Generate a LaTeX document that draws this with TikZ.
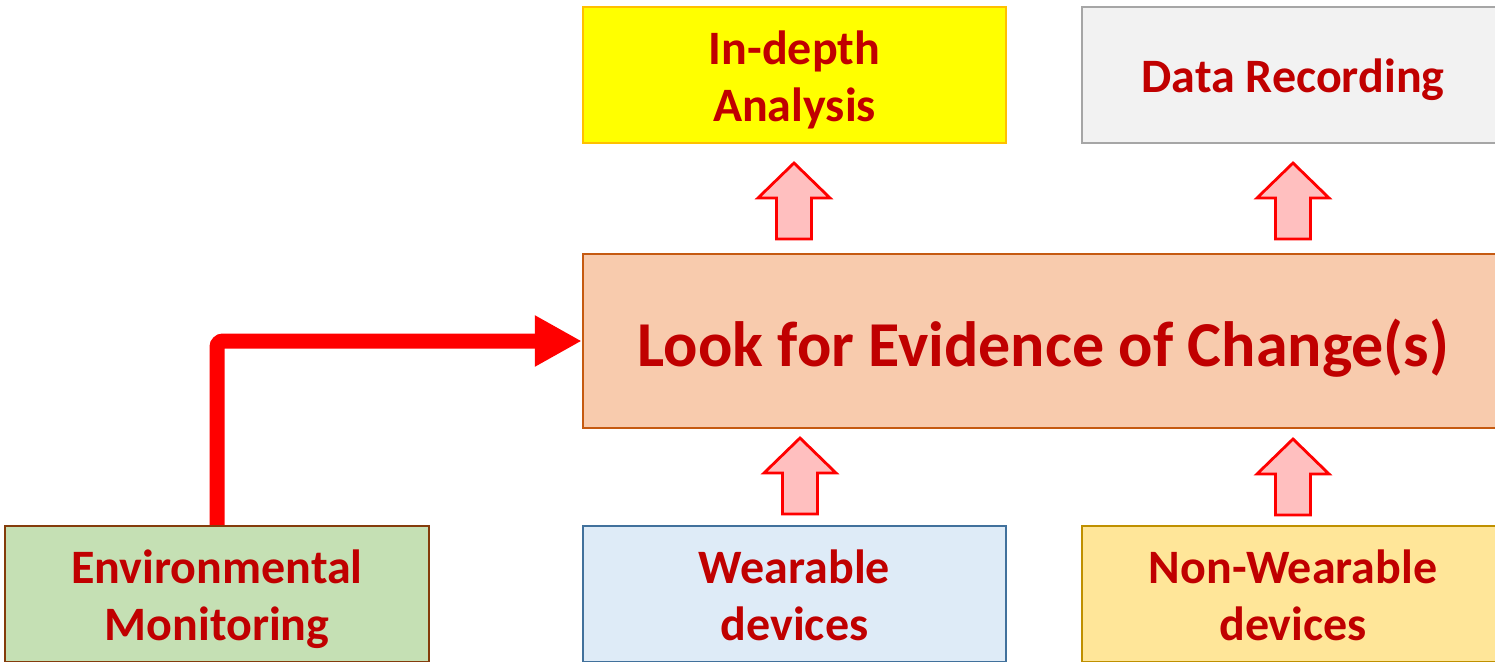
\documentclass[tikz,border=0pt]{standalone}
\usepackage{fontspec}
\setmainfont{Carlito}
\usetikzlibrary{arrows.meta}
\definecolor{txtred}{HTML}{C00000}
\definecolor{arrowpink}{HTML}{FFBFBF}
\begin{document}
\begin{tikzpicture}[x=1pt,y=-1pt,
  box/.style={draw, line width=2.5pt, minimum width=#1, minimum height=136pt,
    inner sep=0pt},
  box/.default=423pt,
  boxtext/.style={text=txtred, align=center, inner sep=0pt, yshift=-5pt,
    font=\fontsize{48}{57}\selectfont\bfseries},
  bigtext/.style={boxtext, yshift=-2pt, font=\fontsize{64}{76}\selectfont\bfseries},
  bigarrow/.style={draw=red, line width=15pt, rounded corners=6pt,
    -{Triangle[length=47pt,width=48pt]}},
  uparrow/.pic={
    \draw[draw=red, fill=arrowpink, line width=2.8pt, line join=miter]
      (-17.5,0) -- (-17.5,-41) -- (-36,-41) -- (0,-76) -- (36,-41)
      -- (17.5,-41) -- (17.5,0) -- cycle;
  }]
\useasboundingbox (0,0) rectangle (1495,661);
\clip (0,0) rectangle (1495,661);
\fill[white] (0,0) rectangle (1495,661);

% top row
\node[box, fill={rgb,255:red,255;green,255;blue,0}, draw={rgb,255:red,255;green,192;blue,0},
  label={[boxtext]center:{In-depth\\Analysis}}] (ana) at (794.5,75) {};
\node[box=422pt, fill={rgb,255:red,242;green,242;blue,242}, draw={rgb,255:red,166;green,166;blue,166},
  label={[boxtext]center:{Data Recording}}] (rec) at (1293,75) {};

% central box
\node[box=921pt, minimum height=174pt, fill={rgb,255:red,248;green,203;blue,173},
  draw={rgb,255:red,197;green,90;blue,17},
  label={[bigtext]center:{Look for Evidence of Change(s)}}] (look) at (1043.5,341) {};

% bottom row (a descender phantom keeps the two-line labels aligned)
\node[box=424pt, fill={rgb,255:red,197;green,224;blue,180}, draw={rgb,255:red,132;green,60;blue,12},
  label={[boxtext]center:{Environmental\\Monitoring}}] (env) at (217,594) {};
\node[box, fill={rgb,255:red,222;green,235;blue,247}, draw={rgb,255:red,65;green,113;blue,156},
  label={[boxtext]center:{Wearable\\devices\vphantom{g}}}] (wear) at (794.5,594) {};
\node[box=422pt, fill={rgb,255:red,255;green,230;blue,153}, draw={rgb,255:red,191;green,144;blue,0},
  label={[boxtext]center:{Non-Wearable\\devices\vphantom{g}}}] (nonw) at (1293,594) {};

% elbow connector from the environmental box into the central box
\draw[bigarrow] (env.north) |- (look.west);

% block arrows between the rows
\pic at (794,239) {uparrow};
\pic at (1293,239) {uparrow};
\pic at (800,514) {uparrow};
\pic at (1293,515) {uparrow};
\end{tikzpicture}
\end{document}
